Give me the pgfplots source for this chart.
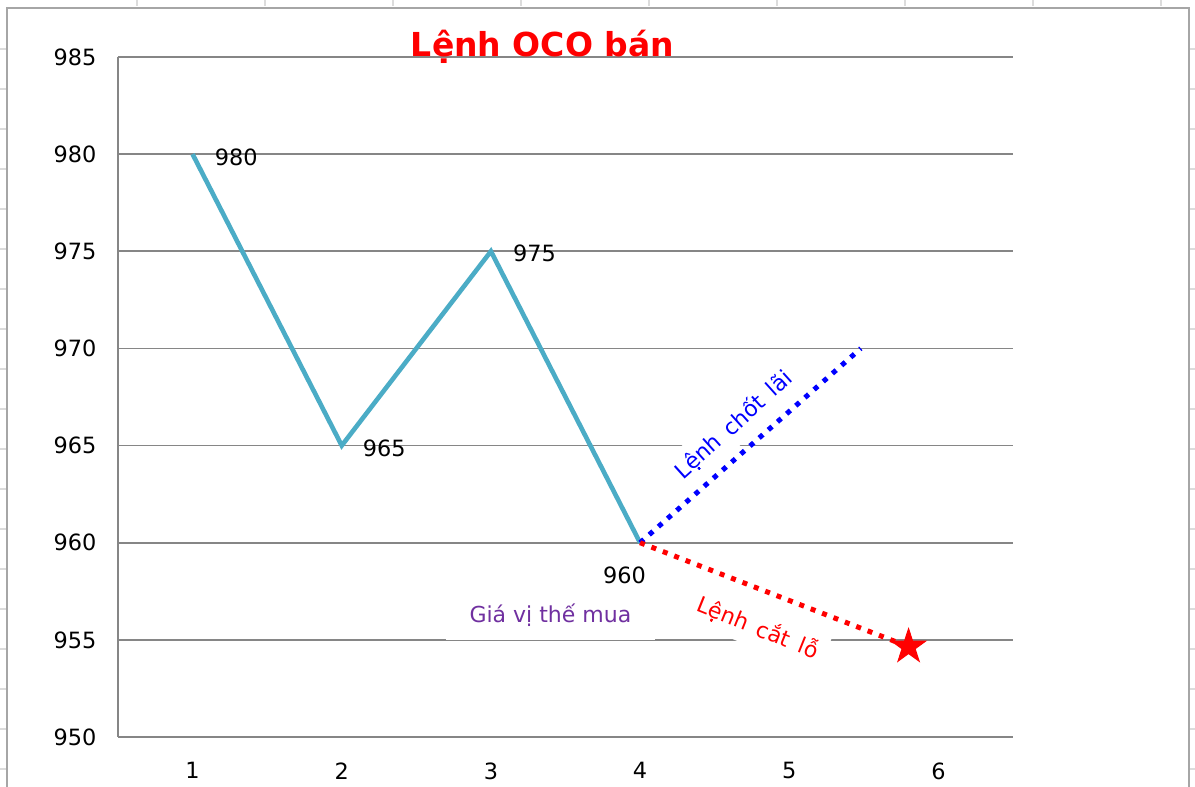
\documentclass[border=0pt]{standalone}
\usepackage{pgfplots}
\pgfplotsset{compat=1.18}
\usepackage{fontspec}
\setmainfont{DejaVu Sans}
\definecolor{tealline}{HTML}{4BACC6}
\definecolor{gridgray}{HTML}{868686}
\definecolor{framegray}{HTML}{A6A6A6}
\definecolor{cellgray}{HTML}{DCDCDC}
\definecolor{lblpurple}{HTML}{7030A0}
\definecolor{lblblue}{HTML}{0000FF}
\definecolor{lblred}{HTML}{FF0000}
\pgfdeclareplotmark{fivestar}{%
  \pgfpathmoveto{\pgfpointpolar{90}{\pgfplotmarksize}}%
  \pgfpathlineto{\pgfpointpolar{126}{0.382\pgfplotmarksize}}%
  \pgfpathlineto{\pgfpointpolar{162}{\pgfplotmarksize}}%
  \pgfpathlineto{\pgfpointpolar{198}{0.382\pgfplotmarksize}}%
  \pgfpathlineto{\pgfpointpolar{234}{\pgfplotmarksize}}%
  \pgfpathlineto{\pgfpointpolar{270}{0.382\pgfplotmarksize}}%
  \pgfpathlineto{\pgfpointpolar{306}{\pgfplotmarksize}}%
  \pgfpathlineto{\pgfpointpolar{342}{0.382\pgfplotmarksize}}%
  \pgfpathlineto{\pgfpointpolar{18}{\pgfplotmarksize}}%
  \pgfpathlineto{\pgfpointpolar{54}{0.382\pgfplotmarksize}}%
  \pgfpathclose
  \pgfusepathqfillstroke
}
\begin{document}
\begin{tikzpicture}
\path[use as bounding box, fill=white] (-59pt,-25pt) rectangle (538.5pt,368.5pt);
% spreadsheet cell marks
\foreach \px in {137,265,393,521,649,777,905,1033,1161}
  \draw[cellgray, line width=0.6pt] ({(\px-118)/2*1pt},368.5pt) -- ++(0,-3pt);
\foreach \py in {49,89,129,169,209,249,289,329,369,409,449,489,529,569,609,649,689,729,769}{
  \draw[cellgray, line width=0.6pt] (-59pt,{(737-\py)/2*1pt}) -- ++(3pt,0);
  \draw[cellgray, line width=0.6pt] (538.5pt,{(737-\py)/2*1pt}) -- ++(-2.5pt,0);
}
% chart frame
\draw[framegray, line width=1.1pt] (-55.5pt,-30pt) -- (-55.5pt,364.5pt) -- (535.5pt,364.5pt) -- (535.5pt,-30pt);
\begin{axis}[
  at={(0,0)}, anchor=south west,
  scale only axis, width=447.5pt, height=340pt,
  xmin=0.5, xmax=6.5, ymin=950, ymax=985,
  xtick={1,2,3,4,5,6}, ytick={950,955,960,965,970,975,980,985},
  axis x line*=bottom, axis y line*=left,
  axis line style={draw=gridgray, line width=0.9pt, -},
  ymajorgrids, grid style={gridgray, line width=0.9pt},
  major tick length=0pt,
  /pgf/number format/assume math mode=true,
  /pgf/number format/.cd, 1000 sep={}, /pgfplots/.cd,
  tick label style={font=\fontsize{11.2}{13}\selectfont, text=black},
  yticklabel style={xshift=-7.3pt},
  xticklabel style={yshift=-9.3pt},
  clip=false,
]
% annotation boxes (drawn before the lines)
\node[fill=white, inner xsep=12pt, inner ysep=7pt, text=lblpurple, font=\fontsize{11}{13}\selectfont] at (axis cs:3.399,956.28) {Giá vị thế mua};
\node[fill=white, rotate=42, inner sep=4pt, text=lblblue, font=\fontsize{11}{13}\selectfont] at (axis cs:4.628,966.06) {Lệnh\, chốt\, lãi};
\node[fill=white, rotate=-22, inner sep=4pt, text=lblred, font=\fontsize{11}{13}\selectfont] at (axis cs:4.789,955.61) {Lệnh\, cắt\, lỗ};
% price path
\addplot[tealline, line width=2.3pt, mark=none] coordinates {(1,980) (2,965) (3,975) (4,960)};
% take profit
\addplot[lblblue, line width=2.5pt, dash pattern=on 2.5pt off 3.6pt, mark=none] coordinates {(4,960) (5.48,970)};
% stop loss
\addplot[lblred, line width=2.5pt, dash pattern=on 2.5pt off 3.6pt, mark=none] coordinates {(4,960) (5.8,954.65)};
\addplot[lblred, only marks, mark=fivestar, mark size=9pt, mark options={solid, fill=lblred, draw=lblred, line width=0.5pt}] coordinates {(5.8,954.65)};
% data labels
\node[font=\fontsize{11.2}{13}\selectfont] at (axis cs:1.292,979.85) {980};
\node[font=\fontsize{11.2}{13}\selectfont] at (axis cs:2.285,964.88) {965};
\node[font=\fontsize{11.2}{13}\selectfont] at (axis cs:3.292,974.91) {975};
\node[font=\fontsize{11.2}{13}\selectfont] at (axis cs:3.896,958.34) {960};
% title
\node[font=\fontsize{16.5}{19}\selectfont\bfseries, text=lblred] at (axis cs:3.346,985.55) {Lệnh OCO bán};
\end{axis}
\end{tikzpicture}
\end{document}
